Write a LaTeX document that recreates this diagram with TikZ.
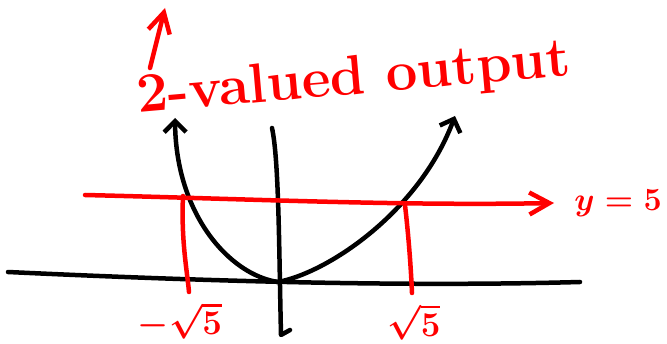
\documentclass[tikz,border=0pt]{standalone}
\usepackage{amsmath}
\usepackage{xcolor}
\usetikzlibrary{arrows.meta}
\definecolor{sketchink}{HTML}{000000}
\definecolor{sketchred}{HTML}{FF0000}

\begin{document}
\begin{tikzpicture}[
  x=1pt,
  y=-1pt,
  every node/.style={sketchred, inner sep=0pt},
  axis/.style={sketchink, line width=4.5pt, line cap=round, line join=round},
  curve/.style={sketchink, line width=4.5pt, line cap=round,
    {Straight Barb[length=11pt,width=22pt]}-{Straight Barb[length=11pt,width=22pt]}},
  level/.style={sketchred, line width=4.5pt, line cap=round},
  levelarrow/.style={level, -{Straight Barb[length=20pt,width=22pt]}},
  bigtext/.style={font=\fontsize{56}{62}\selectfont\bfseries},
  midtext/.style={font=\fontsize{24}{28}\selectfont\boldmath}
]
  % ---- common bounding box, same size as the sketch ----
  \useasboundingbox (0,0) rectangle (667,344);

  % ---- axes ----
  \coordinate (xleft) at (8,272);
  \coordinate (xright) at (580,282);
  \coordinate (ytop) at (272,128);
  \coordinate (ybot) at (281,335);
  \draw[axis] (xleft) .. controls (200,281) and (400,287) .. (xright);
  \draw[axis] (ytop) .. controls (279,160) and (279,250) .. (ybot) -- ++(9,-5);

  % ---- parabola ----
  \coordinate (lefttip) at (175,118);
  \coordinate (vertex) at (278,282);
  \coordinate (righttip) at (455,116);
  \draw[curve] (lefttip) .. controls (176,215) and (230,275) .. (vertex)
    .. controls (330,272) and (420,210) .. (righttip);

  % ---- the level y = 5 ----
  \coordinate (linestart) at (85,195);
  \node[midtext, scale=1.3, anchor=west] (ylabel) at (574,203) {$y=5$};
  \draw[levelarrow] (linestart) .. controls (250,199) and (400,206) .. ([xshift=-20pt]ylabel.west);

  % ---- the two roots ----
  \node[midtext, scale=1.4] (negroot) at (180,321) {$-\sqrt{5}$};
  \node[midtext, scale=1.4] (posroot) at (414,322) {$\sqrt{5}$};
  \coordinate (negtop) at (183,196);
  \coordinate (postop) at (405,205);
  \draw[level] (negtop) .. controls (181,240) and (187,270) .. (189,292);
  \draw[level] (postop) .. controls (409,240) and (411,270) .. (412,293);

  % ---- caption with its arrow ----
  \node[bigtext, rotate=5] (caption) at (354,80) {2-valued output};
  \coordinate (capfoot) at (150,68);
  \coordinate (captop) at (165,8);
  \draw[levelarrow] (capfoot) -- (captop);
\end{tikzpicture}
\end{document}
